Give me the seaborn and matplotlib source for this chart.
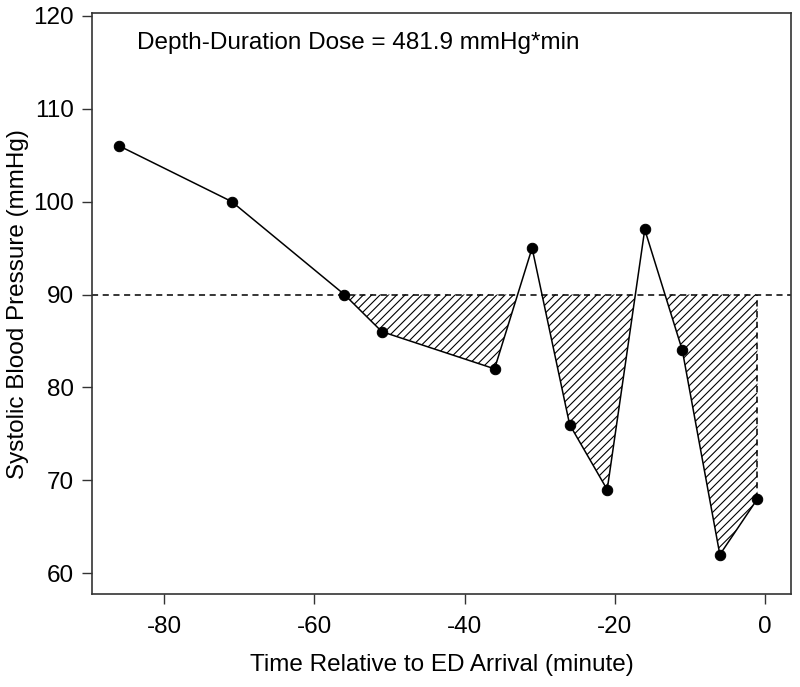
import numpy as np
import matplotlib
matplotlib.use('Agg')
import matplotlib.pyplot as plt
import seaborn as sns
import pandas as pd

# time (minutes relative to ED arrival) and systolic BP readings
minutes = [-86, -71, -56, -51, -36, -31, -26, -21, -16, -11, -6, -1]
sbp = [106, 100, 90, 86, 82, 95, 76, 69, 97, 84, 62, 68]
threshold = 90
dose_label = 'Depth-Duration Dose = 481.9 mmHg*min'

df = pd.DataFrame({'minute': minutes, 'sbp': sbp})

sns.set_theme(style='ticks')
plt.rcParams['font.family'] = ['Liberation Sans', 'DejaVu Sans']
plt.rcParams['hatch.linewidth'] = 0.8
plt.rcParams['axes.unicode_minus'] = False
plt.rcParams['text.color'] = 'black'
plt.rcParams['axes.labelcolor'] = 'black'
plt.rcParams['xtick.labelcolor'] = 'black'
plt.rcParams['ytick.labelcolor'] = 'black'

fig = plt.figure(figsize=(8, 6.87), dpi=100)
ax = fig.add_axes([0.115, 0.135, 0.874, 0.846])

# hatched area below the threshold
x = np.array(df['minute'], dtype=float)
y = np.array(df['sbp'], dtype=float)
ax.fill_between(x, y, threshold, where=y <= threshold, interpolate=True,
                facecolor='white', edgecolor='black', hatch='////', linewidth=0)
ax.vlines(x[-1], y[-1], threshold, colors='black', linestyles=(0, (4, 3)), linewidth=1.1)
ax.axhline(threshold, color='black', linestyle=(0, (4, 3)), linewidth=1.1)

sns.lineplot(data=df, x='minute', y='sbp', ax=ax, color='black', linewidth=1.1,
             marker='o', markersize=7.5, markeredgecolor='black', markerfacecolor='black')

ax.text(-83.6, 117.05, dose_label, fontsize=17.5, ha='left', va='center')

ax.set_xlim(-89.6, 3.5)
ax.set_ylim(57.74, 120.29)
ax.set_xticks([-80, -60, -40, -20, 0])
ax.set_yticks([60, 70, 80, 90, 100, 110, 120])
ax.set_xlabel('Time Relative to ED Arrival (minute)', fontsize=17.5, labelpad=11)
ax.set_ylabel('Systolic Blood Pressure (mmHg)', fontsize=17.5, labelpad=3)
ax.tick_params(labelsize=17.5, length=7, width=1, color='#333333')
ax.tick_params(axis='x', pad=9)
ax.tick_params(axis='y', pad=6)
for s in ax.spines.values():
    s.set_visible(True)
    s.set_color('#333333')
    s.set_linewidth(1.2)

fig.savefig('out.png', dpi=100)
